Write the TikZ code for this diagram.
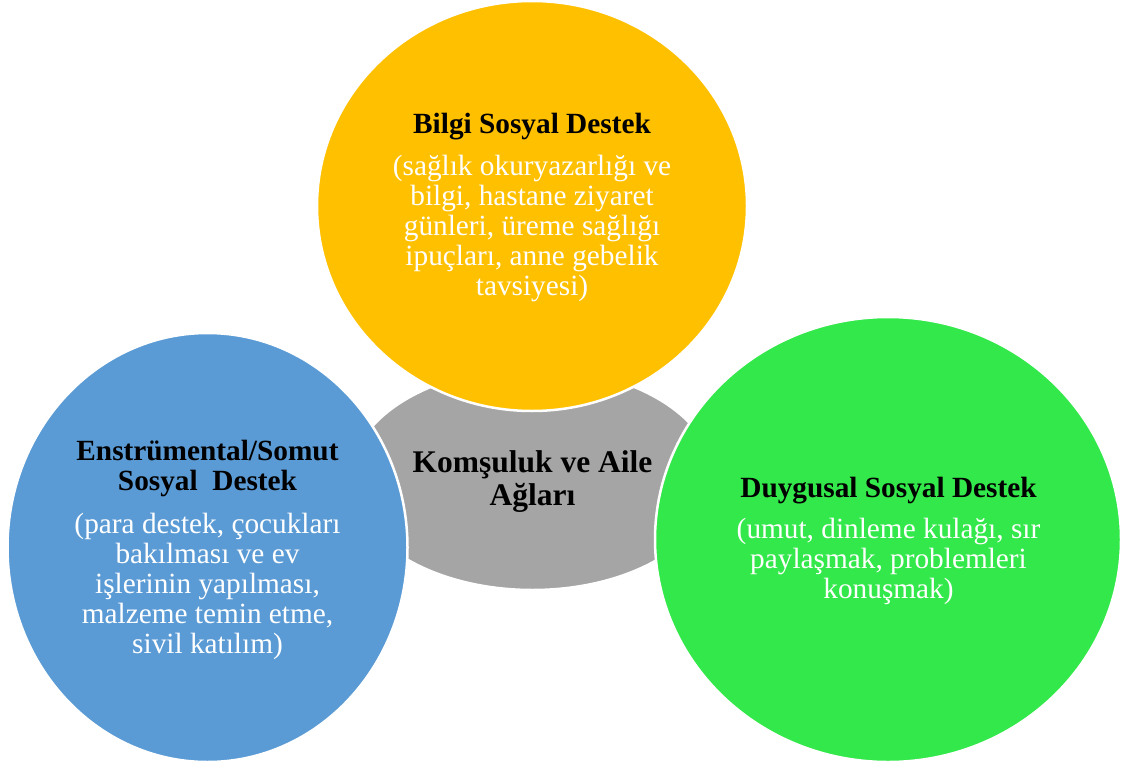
\documentclass[tikz,border=0pt]{standalone}
\usepackage{fontspec}
\setmainfont{Liberation Serif}
\usetikzlibrary{shapes.geometric}
\definecolor{cyel}{HTML}{FFC000}
\definecolor{cblu}{HTML}{5B9BD5}
\definecolor{cgrn}{HTML}{33E84A}
\definecolor{cgry}{HTML}{A5A5A5}
\tikzset{
  blob/.style={ellipse, inner sep=0pt, draw=white, line width=2.5pt},
  ttl/.style={anchor=base, inner sep=0pt, text=black, font=\fontsize{29.3}{30}\selectfont\bfseries},
  bigttl/.style={anchor=base, inner sep=0pt, text=black, font=\fontsize{31.5}{33}\selectfont\bfseries},
  bdy/.style={anchor=base, inner sep=0pt, text=white, font=\fontsize{29.3}{30}\selectfont},
}
\begin{document}
\begin{tikzpicture}[x=1pt,y=-1pt]
\useasboundingbox[fill=white] (0,0) rectangle (1129,768);
% shapes
\node[blob, fill=cgry, minimum width=364pt, minimum height=222pt] (gry) at (532.5,479) {};
\node[blob, fill=cyel, minimum width=430pt, minimum height=410pt] (yel) at (532,206) {};
\node[blob, fill=cblu, minimum width=400pt, minimum height=429pt] (blu) at (207.5,547.5) {};
\node[blob, fill=cgrn, minimum width=466pt, minimum height=445pt] (grn) at (888,539.5) {};
% center text
\node[bigttl] (g1) at (532.5,472) {Komşuluk ve Aile};
\node[bigttl] (g2) at (532.5,505) {Ağları};
% yellow text
\node[ttl] (y0) at (532,133) {Bilgi Sosyal Destek};
\node[bdy] (y1) at (532,175) {(sağlık okuryazarlığı ve};
\node[bdy] (y2) at (532,205) {bilgi, hastane ziyaret};
\node[bdy] (y3) at (532,235) {günleri, üreme sağlığı};
\node[bdy] (y4) at (532,265) {ipuçları, anne gebelik};
\node[bdy] (y5) at (532,295) {tavsiyesi)};
% blue text
\node[ttl] (b01) at (207.5,460) {Enstrümental/Somut};
\node[ttl] (b02) at (207.5,490) {Sosyal\ \ Destek};
\node[bdy] (b1) at (207.5,533) {(para destek, çocukları};
\node[bdy] (b2) at (207.5,563) {bakılması ve ev};
\node[bdy] (b3) at (207.5,593) {işlerinin yapılması,};
\node[bdy] (b4) at (207.5,623) {malzeme temin etme,};
\node[bdy] (b5) at (207.5,653) {sivil katılım)};
% green text
\node[ttl] (r0) at (888.5,497) {Duygusal Sosyal Destek};
\node[bdy] (r1) at (888.5,538) {(umut, dinleme kulağı, sır};
\node[bdy] (r2) at (888.5,568) {paylaşmak, problemleri};
\node[bdy] (r3) at (888.5,598) {konuşmak)};
\end{tikzpicture}
\end{document}
